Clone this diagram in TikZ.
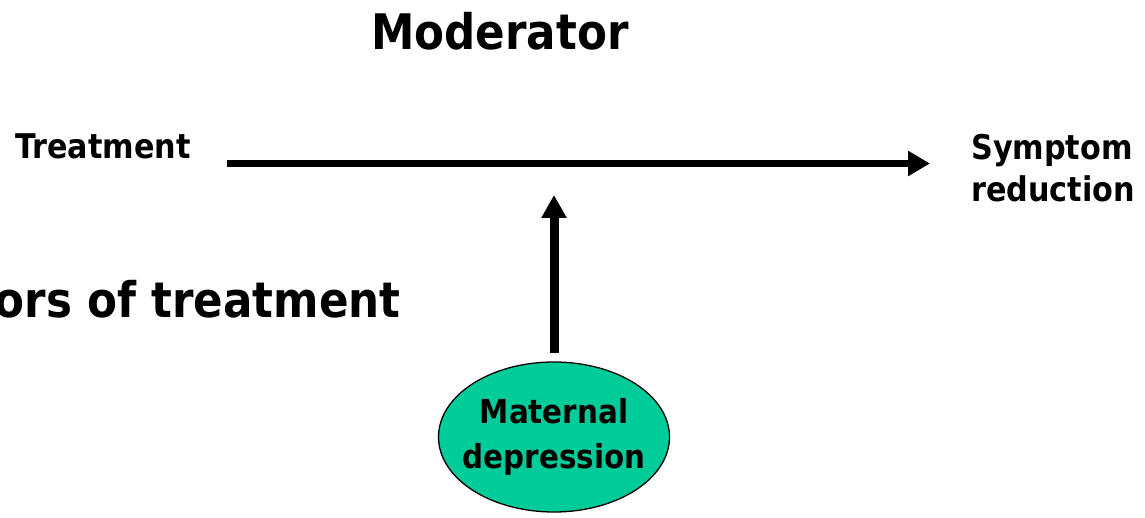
\documentclass[tikz,border=0pt]{standalone}
\usepackage{fontspec}
\newfontfamily\slidefont{DejaVu Sans}[FakeStretch=0.89]
\usetikzlibrary{arrows.meta,shapes.geometric}
\definecolor{moodgreen}{HTML}{00CC99}
\begin{document}
\begin{tikzpicture}[x=1pt,y=-1pt,
  label/.style={inner sep=0pt,font=\slidefont\bfseries\fontsize{34}{42}\selectfont},
  title/.style={inner sep=0pt,font=\slidefont\bfseries\fontsize{49}{55}\selectfont},
  oval/.style={ellipse,draw=black,line width=1.3pt,fill=moodgreen,
    inner xsep=-20pt,inner ysep=0pt,minimum width=231pt,minimum height=150pt,
    align=center,font=\slidefont\bfseries\fontsize{33}{45}\selectfont},
  link/.style={line width=7pt,-{Triangle[length=22pt,width=24pt]}},
  moderates/.style={line width=9pt,-{Triangle[length=23pt,width=24pt]}}]
  \useasboundingbox (0,0) rectangle (1145,518);
  % headings
  \node[title,anchor=base] (head) at (500,50) {Moderator};
  \node[title,anchor=base east] (sub) at (401,318) {ors of treatment};
  % cause and effect
  \node[label,anchor=base west] (treat) at (15,159) {Treatment};
  \node[label,anchor=north west,align=left] (symp) at (971,134) {Symptom\\reduction};
  \coordinate (hstart) at (227,163.5);
  \coordinate (hend) at (930,163.5);
  \draw[link] (hstart) -- (hend);
  % moderator
  \node[oval] (mat) at (554,437) {Maternal\\depression};
  \coordinate (vtip) at (554,195);
  \draw[moderates,shorten <=8pt] (mat.north) -- (vtip);
\end{tikzpicture}
\end{document}
